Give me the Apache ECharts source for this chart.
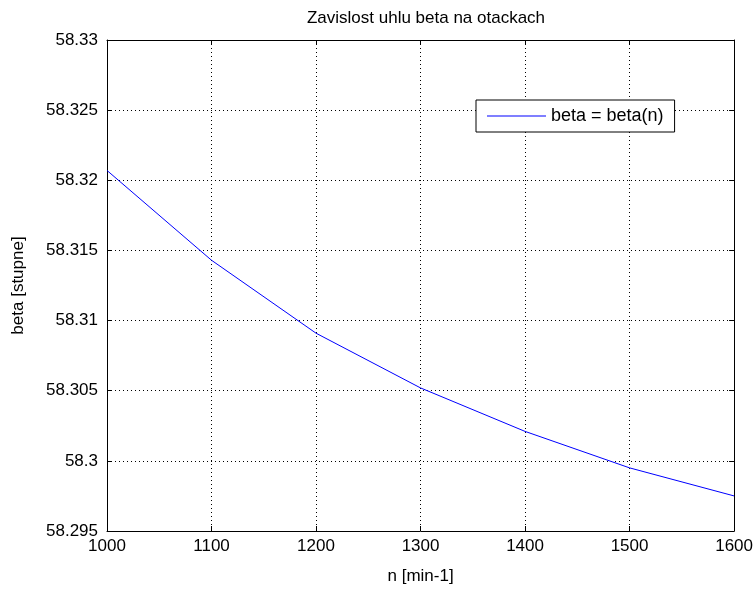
<!DOCTYPE html>
<html>
<head>
<meta charset="utf-8">
<script src="https://cdn.jsdelivr.net/npm/echarts@6/dist/echarts.min.js"></script>
<style>
html,body{margin:0;padding:0;background:#fff;}
#c{width:756px;height:590px;}
</style>
</head>
<body>
<div id="c"></div>
<script>
var titleText = 'Zavislost uhlu beta na otackach';
var xLabel = 'n [min-1]';
var yLabel = 'beta [stupne]';
var seriesName = 'beta = beta(n)';
var nValues = [1000, 1100, 1200, 1300, 1400, 1500, 1600];
var betaValues = [58.3207, 58.3143, 58.3091, 58.3052, 58.3021, 58.2995, 58.2975];

var FONT = 'Liberation Sans, Arial, sans-serif';
var FS = 17;
var chart = echarts.init(document.getElementById('c'));
var data = nValues.map(function(n, i){ return [n, betaValues[i]]; });
var dotted = {show:true, lineStyle:{color:'#000', type:[1,3], width:1}};
var xBase = {type:'value', min:1000, max:1600, interval:100,
  axisLine:{show:true, onZero:false, lineStyle:{color:'#000', width:1}},
  axisTick:{show:true, inside:true, length:5, lineStyle:{color:'#000'}}};
var yBase = {type:'value', min:58.295, max:58.33, interval:0.005,
  axisLine:{show:true, onZero:false, lineStyle:{color:'#000', width:1}},
  axisTick:{show:true, inside:true, length:5, lineStyle:{color:'#000'}}};
chart.setOption({
  animation:false,
  backgroundColor:'#fff',
  title:{text:titleText, left:421, textAlign:'center', top:5,
    textStyle:{fontFamily:FONT, fontSize:FS, fontWeight:'normal', color:'#000'}},
  grid:{left:107, right:21, top:40, bottom:56, containLabel:false},
  legend:{data:[{name:seriesName, icon:'rect', itemStyle:{color:'#0000ff', borderWidth:0}}],
    left:476, top:100, orient:'horizontal',
    backgroundColor:'#fff', borderColor:'#000', borderWidth:1, borderRadius:0,
    padding:[7,11,7,11], itemWidth:59, itemHeight:1, itemGap:5,
    itemStyle:{color:'#0000ff', borderWidth:0},
    textStyle:{fontFamily:FONT, fontSize:18, color:'#000', lineHeight:17}},
  xAxis:[
    Object.assign({}, xBase, {position:'bottom', name:xLabel, nameLocation:'middle', nameGap:37,
      nameTextStyle:{fontFamily:FONT, fontSize:FS, color:'#000'},
      axisLabel:{show:true, margin:7, fontFamily:FONT, fontSize:FS, color:'#000',
        formatter:function(v){ return String(v); }},
      splitLine:dotted}),
    Object.assign({}, xBase, {position:'top', axisLabel:{show:false}, splitLine:{show:false}})
  ],
  yAxis:[
    Object.assign({}, yBase, {position:'left', name:yLabel, nameLocation:'middle', nameGap:80,
      nameTextStyle:{fontFamily:FONT, fontSize:FS, color:'#000'},
      axisLabel:{show:true, margin:9, fontFamily:FONT, fontSize:FS, color:'#000'},
      splitLine:dotted}),
    Object.assign({}, yBase, {position:'right', axisLabel:{show:false}, splitLine:{show:false}})
  ],
  series:[{name:seriesName, type:'line', data:data, xAxisIndex:0, yAxisIndex:0,
    symbol:'none', showSymbol:false, smooth:false,
    lineStyle:{color:'#0000ff', width:1}, itemStyle:{color:'#0000ff'}}]
});
</script>
</body>
</html>
